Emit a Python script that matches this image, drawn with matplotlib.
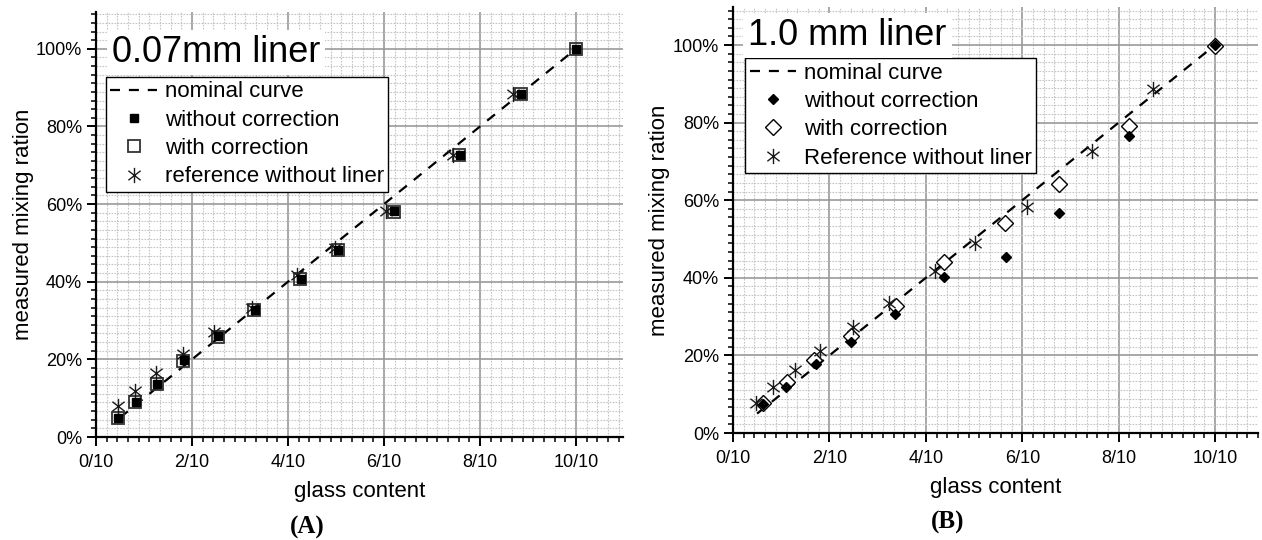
import matplotlib
matplotlib.use("Agg")
import matplotlib.pyplot as plt
from matplotlib.ticker import FixedLocator, AutoMinorLocator
from matplotlib.path import Path

# ---------------- data ----------------
x_ticks = [0.0, 0.2, 0.4, 0.6, 0.8, 1.0]
x_tick_labels = ["0/10", "2/10", "4/10", "6/10", "8/10", "10/10"]
y_ticks = [0.0, 0.2, 0.4, 0.6, 0.8, 1.0]
y_tick_labels = ["0%", "20%", "40%", "60%", "80%", "100%"]

nominal_x = [0.05, 1.0]
nominal_y = [0.05, 1.0]

# Panel A (0.07 mm liner)
a_without_x = [0.046, 0.083, 0.128, 0.183, 0.255, 0.331, 0.427, 0.505, 0.621, 0.758, 0.886, 1.0]
a_without_y = [0.050, 0.091, 0.137, 0.198, 0.259, 0.327, 0.407, 0.482, 0.581, 0.727, 0.884, 1.0]
a_with_x = [0.045, 0.082, 0.127, 0.182, 0.254, 0.330, 0.426, 0.504, 0.620, 0.757, 0.885, 1.0]
a_with_y = [0.049, 0.090, 0.136, 0.197, 0.258, 0.327, 0.406, 0.481, 0.580, 0.726, 0.883, 1.0]
a_ref_x = [0.045, 0.082, 0.126, 0.181, 0.246, 0.324, 0.419, 0.498, 0.604, 0.744, 0.869]
a_ref_y = [0.079, 0.119, 0.164, 0.213, 0.271, 0.333, 0.417, 0.486, 0.582, 0.727, 0.883]

# Panel B (1.0 mm liner)
b_without_x = [0.063, 0.110, 0.172, 0.244, 0.336, 0.438, 0.566, 0.676, 0.821, 1.0]
b_without_y = [0.075, 0.119, 0.177, 0.234, 0.307, 0.401, 0.454, 0.568, 0.766, 1.0]
b_with_x = [0.063, 0.113, 0.167, 0.244, 0.338, 0.438, 0.564, 0.677, 0.821, 1.0]
b_with_y = [0.077, 0.131, 0.188, 0.250, 0.328, 0.442, 0.542, 0.642, 0.792, 0.997]
b_ref_x = [0.048, 0.084, 0.129, 0.180, 0.248, 0.324, 0.419, 0.502, 0.609, 0.744, 0.871]
b_ref_y = [0.077, 0.119, 0.162, 0.211, 0.272, 0.336, 0.418, 0.489, 0.582, 0.727, 0.886]

# ---------------- style ----------------
plt.rcParams['font.family'] = ['Liberation Sans', 'DejaVu Sans']
W, H = 1262, 540
fig = plt.figure(figsize=(W / 100, H / 100), dpi=100)


def px_axes(l, r, t, b):
    return fig.add_axes([l / W, 1 - b / H, (r - l) / W, (b - t) / H])


ASTER = Path([(0, -1), (0, 1), (-0.8, -0.62), (0.8, 0.62), (-0.8, 0.62), (0.8, -0.62)],
             [Path.MOVETO, Path.LINETO, Path.MOVETO, Path.LINETO, Path.MOVETO, Path.LINETO])
DASH = (0, (4.5, 4.0))


def style_axes(ax, xmax, ymax):
    ax.set_xlim(0, xmax)
    ax.set_ylim(0, ymax)
    ax.xaxis.set_major_locator(FixedLocator(x_ticks))
    ax.yaxis.set_major_locator(FixedLocator(y_ticks))
    ax.set_xticklabels(x_tick_labels)
    ax.set_yticklabels(y_tick_labels)
    ax.xaxis.set_minor_locator(AutoMinorLocator(9))
    ax.yaxis.set_minor_locator(AutoMinorLocator(9))
    ax.grid(which='major', color='#999999', lw=1.2, ls='-')
    ax.grid(which='minor', color='#c4c4c4', lw=0.8, ls=(0, (1.5, 1.2)))
    ax.set_axisbelow(True)
    for s in ('top', 'right'):
        ax.spines[s].set_visible(False)
    for s in ('left', 'bottom'):
        ax.spines[s].set_linewidth(1.6)
        ax.spines[s].set_color('black')
    ax.tick_params(which='major', length=6.5, width=1.4, labelsize=13, pad=3.5, direction='out')
    ax.tick_params(axis='x', which='major', pad=5.5)
    ax.tick_params(which='minor', length=3.5, width=1.1, direction='out')
    ax.set_xlabel("glass content", fontsize=16)
    ax.set_ylabel("measured mixing ration", fontsize=16)
    ax.xaxis.label.set_va('center')
    ax.yaxis.label.set_va('center')


LEG_KW = dict(loc='upper left', borderaxespad=0, fontsize=16, frameon=True, fancybox=False,
              edgecolor='black', framealpha=1, handlelength=2.1, handletextpad=0.35,
              labelspacing=0.33, borderpad=0.2)

# ---------------- Panel A ----------------
axA = px_axes(96, 623, 12, 437)
style_axes(axA, 1.098, 1.095)
axA.plot(nominal_x, nominal_y, color='black', lw=1.6, ls=DASH, label='nominal curve', zorder=3)
axA.plot(a_without_x, a_without_y, ls='none', marker='s', ms=5.3, mfc='black', mec='black',
         label='without correction', zorder=5)
axA.plot(a_with_x, a_with_y, ls='none', marker='s', ms=8.8, mfc='none', mec='#333333', mew=1.3,
         label='with correction', zorder=4)
axA.plot(a_ref_x, a_ref_y, ls='none', marker=ASTER, ms=11, color='#1a1a1a', mew=1.0,
         label='reference without liner', zorder=4)
legA = axA.legend(bbox_to_anchor=(0.019, 0.847), **LEG_KW)
legA.get_frame().set_linewidth(1.0)
axA.text(0.030, 0.882, "0.07mm liner", transform=axA.transAxes, fontsize=26, va='baseline', ha='left',
         bbox=dict(boxstyle='square,pad=0.14', fc='white', ec='none'), zorder=6)
axA.xaxis.set_label_coords(0.5, (437 - 492) / 425)
axA.yaxis.set_label_coords((24 - 96) / 527, 0.5)

# ---------------- Panel B ----------------
axB = px_axes(733, 1258, 7, 433)
style_axes(axB, 1.089, 1.098)
axB.plot(nominal_x, nominal_y, color='black', lw=1.6, ls=DASH, label='nominal curve', zorder=3)
axB.plot(b_without_x, b_without_y, ls='none', marker='D', ms=5.0, mfc='black', mec='black',
         label='without correction', zorder=5)
axB.plot(b_with_x, b_with_y, ls='none', marker='D', ms=8.3, mfc='white', mec='black', mew=1.0,
         label='with correction', zorder=4)
axB.plot(b_ref_x, b_ref_y, ls='none', marker=ASTER, ms=11, color='#1a1a1a', mew=1.0,
         label='Reference without liner', zorder=4)
legB = axB.legend(bbox_to_anchor=(0.023, 0.880), **LEG_KW)
legB.get_frame().set_linewidth(1.0)
axB.text(0.029, 0.911, "1.0 mm liner", transform=axB.transAxes, fontsize=26, va='baseline', ha='left',
         bbox=dict(boxstyle='square,pad=0.14', fc='white', ec='none'), zorder=6)
axB.xaxis.set_label_coords(0.5, (433 - 488) / 426)
axB.yaxis.set_label_coords((660 - 733) / 525, 0.5)

# ---------------- panel letters ----------------
fig.text(307 / W, 1 - 527 / H, "(A)", fontsize=18, fontweight='bold', family='Liberation Serif',
         ha='center', va='center')
fig.text(948 / W, 1 - 522 / H, "(B)", fontsize=18, fontweight='bold', family='Liberation Serif',
         ha='center', va='center')

fig.savefig("out.png", dpi=100)
